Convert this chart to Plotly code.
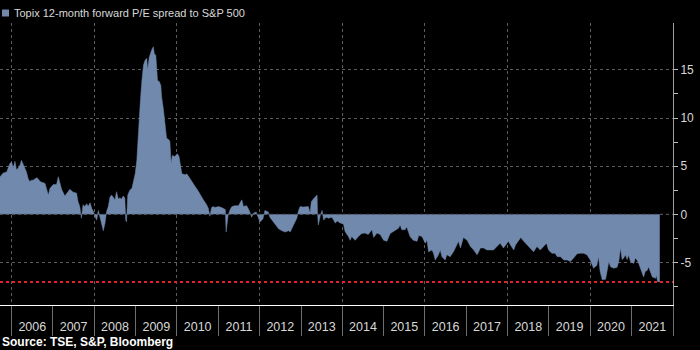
import pandas as pd
import plotly.graph_objects as go

# Topix 12-month forward P/E minus S&P 500 12-month forward P/E.
# Observation dates are given as decimal years.
years = [
    2005.72, 2005.80, 2005.88, 2005.96, 2006.00, 2006.04, 2006.08, 2006.12, 2006.16, 2006.20,
    2006.24, 2006.28, 2006.32, 2006.36, 2006.40, 2006.44, 2006.48, 2006.52, 2006.61, 2006.64,
    2006.69, 2006.77, 2006.81, 2006.89, 2006.93, 2007.01, 2007.09, 2007.13, 2007.17, 2007.21,
    2007.29, 2007.33, 2007.41, 2007.49, 2007.57, 2007.61, 2007.65, 2007.69, 2007.73, 2007.77,
    2007.82, 2007.85, 2007.90, 2007.94, 2007.98, 2008.02, 2008.06, 2008.10, 2008.14, 2008.18,
    2008.22, 2008.26, 2008.30, 2008.34, 2008.38, 2008.42, 2008.46, 2008.50, 2008.54, 2008.58,
    2008.62, 2008.66, 2008.70, 2008.74, 2008.76, 2008.78, 2008.81, 2008.86, 2008.91, 2008.94,
    2008.99, 2009.03, 2009.07, 2009.11, 2009.15, 2009.19, 2009.23, 2009.27, 2009.29, 2009.33,
    2009.39, 2009.43, 2009.45, 2009.49, 2009.53, 2009.57, 2009.61, 2009.63, 2009.67, 2009.71,
    2009.75, 2009.79, 2009.83, 2009.86, 2009.89, 2009.95, 2010.01, 2010.05, 2010.08, 2010.12,
    2010.20, 2010.24, 2010.32, 2010.36, 2010.44, 2010.52, 2010.56, 2010.60, 2010.64, 2010.72,
    2010.76, 2010.80, 2010.84, 2010.88, 2010.92, 2011.00, 2011.08, 2011.17, 2011.19, 2011.24,
    2011.29, 2011.33, 2011.41, 2011.49, 2011.57, 2011.61, 2011.69, 2011.75, 2011.81, 2011.85,
    2011.92, 2011.97, 2012.01, 2012.08, 2012.13, 2012.21, 2012.25, 2012.30, 2012.38, 2012.46,
    2012.54, 2012.62, 2012.70, 2012.74, 2012.82, 2012.90, 2012.94, 2012.98, 2013.06, 2013.14,
    2013.18, 2013.22, 2013.25, 2013.30, 2013.34, 2013.39, 2013.40, 2013.42, 2013.47, 2013.51,
    2013.55, 2013.61, 2013.67, 2013.75, 2013.79, 2013.83, 2013.88, 2013.95, 2014.03, 2014.07,
    2014.15, 2014.19, 2014.23, 2014.31, 2014.39, 2014.47, 2014.55, 2014.63, 2014.72, 2014.76,
    2014.84, 2014.92, 2015.00, 2015.08, 2015.16, 2015.24, 2015.36, 2015.40, 2015.44, 2015.52,
    2015.56, 2015.64, 2015.72, 2015.81, 2015.85, 2015.93, 2016.01, 2016.05, 2016.09, 2016.17,
    2016.21, 2016.25, 2016.33, 2016.37, 2016.41, 2016.49, 2016.53, 2016.61, 2016.69, 2016.77,
    2016.81, 2016.86, 2016.90, 2016.93, 2017.02, 2017.10, 2017.18, 2017.26, 2017.30, 2017.34,
    2017.42, 2017.50, 2017.58, 2017.66, 2017.74, 2017.82, 2017.90, 2017.99, 2018.02, 2018.07,
    2018.15, 2018.19, 2018.27, 2018.32, 2018.39, 2018.47, 2018.55, 2018.63, 2018.71, 2018.79,
    2018.87, 2018.94, 2018.99, 2019.07, 2019.15, 2019.20, 2019.28, 2019.36, 2019.44, 2019.52,
    2019.60, 2019.68, 2019.76, 2019.84, 2019.92, 2020.00, 2020.08, 2020.16, 2020.20, 2020.24,
    2020.29, 2020.37, 2020.41, 2020.45, 2020.49, 2020.57, 2020.65, 2020.69, 2020.73, 2020.77,
    2020.81, 2020.85, 2020.89, 2020.93, 2020.97, 2021.05, 2021.09, 2021.13, 2021.17, 2021.25,
    2021.29, 2021.33, 2021.38, 2021.41, 2021.46, 2021.50, 2021.58, 2021.60, 2021.63, 2021.68,
]
spread = [
    3.9, 4.3, 4.4, 5.3, 5.4, 4.8, 5.5, 4.6, 4.8, 5.1,
    5.6, 5.2, 4.9, 4.4, 3.7, 3.4, 3.55, 3.55, 3.8, 3.7,
    3.4, 3.3, 3.2, 2.0, 2.7, 3.1, 3.1, 3.9, 3.1, 2.6,
    1.9, 2.1, 2.6, 2.3, 2.2, 1.3, 0.8, -0.4, 1.0, 0.8,
    1.1, 0.8, 1.2, 0.6, 0.3, -0.2, -0.6, 0.4, -0.4, -0.9,
    -1.7, -0.9, 0.3, 0.8, 1.8, 2.0, 1.8, 1.5, 2.35, 1.6,
    1.7, 1.6, 1.9, 1.7, -0.6, -0.8, 2.0, 2.5, 2.7, 3.2,
    4.25, 5.6, 9.1, 11.5, 13.8, 15.5, 16.0, 16.2, 15.0, 16.3,
    17.1, 17.4, 16.7, 16.5, 13.9, 13.8, 13.4, 12.2, 11.0, 9.5,
    7.9, 7.8, 7.6, 5.3, 6.1, 6.0, 6.3, 6.0, 5.0, 4.2,
    4.1, 4.2, 3.7, 3.4, 2.9, 2.4, 2.0, 1.8, 1.5, 1.0,
    0.6, -0.2, 0.7, 0.8, 0.7, 0.8, 0.7, 0.5, -1.85, -0.1,
    0.5, 0.8, 0.9, 0.9, 1.5, 0.8, 0.9, 0.4, -0.3, 0.1,
    0.25, -0.3, -0.8, -0.5, 0.4, 0.25, -0.3, -0.6, -1.1, -1.5,
    -1.7, -1.85, -1.7, -1.85, -1.1, -0.4, 0.4, 0.8, 0.75, 0.75,
    0.8, 0.1, 1.3, 1.6, 1.75, 2.0, 0.1, -1.1, -0.1, 0.4,
    -0.6, -0.3, -0.4, -0.3, -0.6, -0.9, -0.7, -0.9, -1.0, -1.8,
    -2.3, -2.7, -2.3, -2.7, -2.3, -2.0, -1.95, -2.1, -1.6, -2.4,
    -1.95, -2.1, -2.7, -2.8, -2.0, -1.8, -1.45, -1.1, -1.6, -1.6,
    -1.3, -2.3, -2.7, -2.8, -2.2, -2.3, -3.0, -2.7, -3.9, -3.7,
    -4.05, -4.75, -4.2, -3.7, -4.4, -4.75, -4.2, -4.4, -3.9, -3.2,
    -2.8, -3.5, -2.7, -2.4, -2.7, -3.35, -3.7, -4.2, -3.9, -3.5,
    -3.5, -3.7, -3.7, -3.7, -3.35, -3.0, -3.5, -3.0, -2.8, -3.2,
    -3.7, -3.2, -2.7, -2.4, -2.8, -3.2, -3.5, -3.9, -3.35, -3.7,
    -3.35, -3.0, -3.7, -4.05, -4.05, -4.4, -4.4, -4.75, -4.75, -4.9,
    -4.55, -4.1, -4.05, -4.05, -4.2, -4.75, -5.6, -5.3, -4.4, -5.95,
    -6.8, -6.75, -5.8, -4.9, -5.45, -5.6, -5.5, -4.9, -3.5, -4.7,
    -4.55, -4.2, -4.7, -4.25, -4.9, -5.1, -4.55, -4.75, -5.1, -5.95,
    -6.5, -5.95, -5.8, -5.45, -5.95, -6.5, -6.65, -6.3, -7.0, -7.03,
]

# Axis labels on the price scale (hyphen-minus, as on the terminal chart)
y_tickvals = [-5, 0, 5, 10, 15]
y_ticktext = ["-5", "0", "5", "10", "15"]
y_minor = [-7.5, -2.5, 2.5, 7.5, 12.5]

X_START, X_END = "2005-09-20", "2022-01-01"
Y_RANGE = [-9.42, 19.87]

FILL = "#7189ad"
GRID = "#5c5c5c"
TEXT = "#d8d8d8"
FONT = "Liberation Sans, Arial, sans-serif"


def to_date(y):
    """Convert a decimal year to an ISO date string."""
    yr = int(y)
    start = pd.Timestamp(year=yr, month=1, day=1)
    end = pd.Timestamp(year=yr + 1, month=1, day=1)
    return (start + (end - start) * (y - yr)).strftime("%Y-%m-%d")


dates = [to_date(y) for y in years]

fig = go.Figure()

fig.add_trace(go.Scatter(
    x=dates, y=spread, mode="lines",
    fill="tozeroy", fillcolor=FILL,
    line=dict(color=FILL, width=0.5),
    showlegend=False, hoverinfo="skip",
))

# Latest-value marker line, drawn on the overlay axis that carries the biennial grid
fig.add_trace(go.Scatter(
    x=[X_START, X_END], y=[spread[-1], spread[-1]],
    xaxis="x2", mode="lines",
    line=dict(color="#e3202b", width=2, dash="dot"),
    showlegend=False, hoverinfo="skip",
))

fig.update_layout(
    width=700, height=350,
    margin=dict(l=0, r=27, t=23, b=45),
    paper_bgcolor="#000000", plot_bgcolor="#000000",
    font=dict(family=FONT, color=TEXT),
    xaxis=dict(
        type="date", range=[X_START, X_END],
        tick0="2006-01-01", dtick="M12", tickformat="%Y",
        ticklabelmode="period",
        ticks="outside", ticklen=30, tickwidth=1, tickcolor="#6e6e6e",
        ticklabelstandoff=-20,
        tickfont=dict(family=FONT, size=12.5, color=TEXT),
        showgrid=False, zeroline=False,
        showline=True, linecolor="#ffffff", linewidth=1,
    ),
    xaxis2=dict(
        type="date", range=[X_START, X_END], overlaying="x", side="bottom",
        tick0="2006-01-01", dtick="M24",
        showgrid=True, gridcolor=GRID, griddash="dot", gridwidth=1,
        showticklabels=False, ticks="", showline=False, zeroline=False,
    ),
    yaxis=dict(
        side="right", range=Y_RANGE,
        tickmode="array", tickvals=y_tickvals, ticktext=y_ticktext,
        ticks="outside", ticklen=4, tickwidth=1, tickcolor="#bdbdbd",
        tickfont=dict(family=FONT, size=12, color=TEXT),
        showgrid=True, gridcolor=GRID, griddash="dot", gridwidth=1,
        zeroline=False,
        showline=True, linecolor="#a0a0a0", linewidth=1,
        minor=dict(tickvals=y_minor, ticks="outside", ticklen=4,
                   tickcolor="#bdbdbd", showgrid=False),
    ),
    shapes=[
        # zero reference line laid over the filled area
        dict(type="line", xref="paper", yref="y", x0=0, x1=1, y0=0, y1=0,
             line=dict(color="#4a4f58", width=1, dash="dot"), layer="above"),
        # legend swatch
        dict(type="rect", xref="paper", yref="paper",
             x0=2 / 673, x1=9 / 673, y0=1 + 6.5 / 282, y1=1 + 13.5 / 282,
             fillcolor=FILL, line=dict(width=0)),
    ],
    annotations=[
        dict(text="Topix 12-month forward P/E spread to S&P 500",
             xref="paper", yref="paper", x=12 / 673, y=1 + 10 / 282,
             xanchor="left", yanchor="middle", showarrow=False,
             font=dict(family=FONT, size=11, color=TEXT)),
        dict(text="<b>Source: TSE, S&P, Bloomberg</b>",
             xref="paper", yref="paper", x=0, y=-37 / 282,
             xanchor="left", yanchor="middle", showarrow=False,
             font=dict(family=FONT, size=12, color="#ffffff")),
    ],
)

fig.write_html("out.html")
